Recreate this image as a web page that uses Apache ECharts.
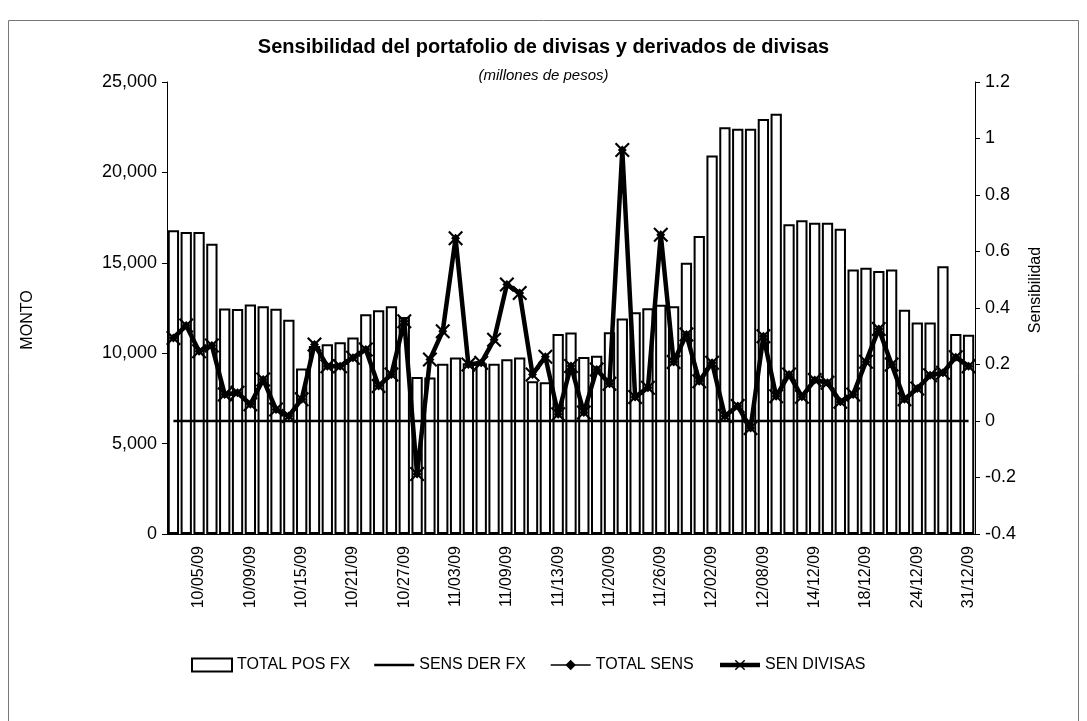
<!DOCTYPE html>
<html>
<head>
<meta charset="utf-8">
<script src="https://cdn.jsdelivr.net/npm/echarts@6/dist/echarts.min.js"></script>
<style>
html,body{margin:0;padding:0;background:#fff;}
#chart{width:1087px;height:721px;}
</style>
</head>
<body>
<div id="chart"></div>
<script>
// Categories (business days, Oct–Dec 2009)
var categories = [
 '10/01/09','10/02/09','10/05/09','10/06/09','10/07/09','10/08/09','10/09/09','10/12/09','10/13/09','10/14/09',
 '10/15/09','10/16/09','10/19/09','10/20/09','10/21/09','10/22/09','10/23/09','10/26/09','10/27/09','10/28/09',
 '10/29/09','10/30/09','11/03/09','11/04/09','11/05/09','11/06/09','11/09/09','11/10/09','11/11/09','11/12/09',
 '11/13/09','11/17/09','11/18/09','11/19/09','11/20/09','11/23/09','11/24/09','11/25/09','11/26/09','11/27/09',
 '11/30/09','12/01/09','12/02/09','12/03/09','12/04/09','12/07/09','12/08/09','09/12/09','10/12/09','11/12/09',
 '14/12/09','15/12/09','16/12/09','17/12/09','18/12/09','21/12/09','22/12/09','23/12/09','24/12/09','28/12/09',
 '29/12/09','30/12/09','31/12/09'
];

// TOTAL POS FX (left axis, millones de pesos)
var totalPosFx = [
 16800,16700,16700,16060,12470,12450,12690,12600,12460,11850,
 9150,10400,10500,10610,10870,12150,12380,12590,12000,8680,
 8650,9420,9760,9450,9450,9410,9670,9760,8450,8400,
 11060,11150,9790,9860,11160,11920,12270,12480,12685,12590,
 15000,16480,20930,22500,22410,22410,22960,23240,17130,17350,
 17220,17220,16890,14630,14720,14540,14630,12410,11700,11700,
 14810,11060,11020
];

// SENS DER FX (right axis)
var sensDerFx = [
 0,0,0,0,0,0,0,0,0,0,
 0,0,0,0,0,0,0,0,0,0,
 0,0,0,0,0,0,0,0,0,0,
 0,0,0,0,0,0,0,0,0,0,
 0,0,0,0,0,0,0,0,0,0,
 0,0,0,0,0,0,0,0,0,0,
 0,0,0
];

// TOTAL SENS (right axis)
var totalSens = [
 0.294,0.338,0.247,0.267,0.094,0.100,0.059,0.147,0.041,0.018,
 0.077,0.271,0.194,0.194,0.224,0.253,0.124,0.165,0.353,-0.188,
 0.218,0.318,0.647,0.200,0.206,0.288,0.483,0.453,0.165,0.227,
 0.024,0.195,0.030,0.182,0.132,0.959,0.085,0.118,0.659,0.209,
 0.306,0.141,0.206,0.018,0.053,-0.025,0.300,0.088,0.165,0.086,
 0.145,0.135,0.068,0.094,0.210,0.326,0.200,0.077,0.115,0.162,
 0.171,0.226,0.194
];

// SEN DIVISAS (right axis)
var senDivisas = [
 0.294,0.338,0.247,0.267,0.094,0.100,0.059,0.147,0.041,0.018,
 0.077,0.271,0.194,0.194,0.224,0.253,0.124,0.165,0.353,-0.188,
 0.218,0.318,0.647,0.200,0.206,0.288,0.483,0.453,0.165,0.227,
 0.024,0.195,0.030,0.182,0.132,0.959,0.085,0.118,0.659,0.209,
 0.306,0.141,0.206,0.018,0.053,-0.025,0.300,0.088,0.165,0.086,
 0.145,0.135,0.068,0.094,0.210,0.326,0.200,0.077,0.115,0.162,
 0.171,0.226,0.194
];

var FONT = 'Liberation Sans, Arial, sans-serif';
var X_SYMBOL = 'path://M0,1L1,0L5,4L9,0L10,1L6,5L10,9L9,10L5,6L1,10L0,9L4,5Z';

var chart = echarts.init(document.getElementById('chart'));
chart.setOption({
  backgroundColor: '#fff',
  animation: false,
  textStyle: { fontFamily: FONT, color: '#000' },
  title: [
    { text: 'Sensibilidad del portafolio de divisas y derivados de divisas',
      left: 'center', top: 32,
      textStyle: { fontFamily: FONT, fontSize: 20, fontWeight: 'bold', color: '#000' } },
    { text: '(millones de pesos)', left: 'center', top: 63,
      textStyle: { fontFamily: FONT, fontSize: 15, fontStyle: 'italic', fontWeight: 'normal', color: '#000' } }
  ],
  graphic: [
    { type: 'rect', shape: { x: 8.5, y: 20.5, width: 1070, height: 720 },
      style: { fill: 'none', stroke: '#777', lineWidth: 1 }, silent: true },
    { type: 'text', x: 28, y: 320, rotation: Math.PI / 2,
      style: { text: 'MONTO', fontFamily: FONT, fontSize: 16, fill: '#000', textAlign: 'center', textVerticalAlign: 'middle' } },
    { type: 'text', x: 1036, y: 290, rotation: Math.PI / 2,
      style: { text: 'Sensibilidad', fontFamily: FONT, fontSize: 16, fill: '#000', textAlign: 'center', textVerticalAlign: 'middle' } }
  ],
  legend: {
    left: 186, top: 652,
    itemWidth: 40, itemHeight: 13, itemGap: 24,
    lineStyle: { width: 'inherit' },
    textStyle: { fontFamily: FONT, fontSize: 16, color: '#000' },
    data: [
      { name: 'TOTAL POS FX', icon: 'rect' },
      { name: 'SENS DER FX', icon: 'path://M0,0H100V6H0Z' },
      { name: 'TOTAL SENS' },
      { name: 'SEN DIVISAS' }
    ]
  },
  grid: { left: 167, right: 112, top: 82, bottom: 187, containLabel: false },
  xAxis: {
    type: 'category',
    data: categories,
    axisLine: { show: true, lineStyle: { color: '#000', width: 1 } },
    axisTick: { show: false },
    axisLabel: {
      rotate: 90, fontFamily: FONT, fontSize: 16, color: '#000', margin: 12,
      interval: function (i) { return i % 4 === 2; }
    }
  },
  yAxis: [
    { type: 'value', min: 0, max: 25000, interval: 5000,
      axisLine: { show: true, lineStyle: { color: '#000', width: 1 } },
      axisTick: { show: true, length: 5, lineStyle: { color: '#000' } },
      splitLine: { show: false },
      axisLabel: { fontFamily: FONT, fontSize: 18, color: '#000', margin: 10,
        formatter: function (v) { return v.toLocaleString('en-US'); } } },
    { type: 'value', min: -0.4, max: 1.2, interval: 0.2, position: 'right',
      axisLine: { show: true, lineStyle: { color: '#000', width: 1 } },
      axisTick: { show: true, length: 5, lineStyle: { color: '#000' } },
      splitLine: { show: false },
      axisLabel: { fontFamily: FONT, fontSize: 18, color: '#000', margin: 10,
        formatter: function (v) { return String(+v.toFixed(1)); } } }
  ],
  series: [
    { name: 'TOTAL POS FX', type: 'bar', yAxisIndex: 0, data: totalPosFx,
      barCategoryGap: '12%',
      itemStyle: { color: '#fff', borderColor: '#000', borderWidth: 2 }, z: 1 },
    { name: 'SENS DER FX', type: 'line', yAxisIndex: 1, data: sensDerFx,
      symbol: 'none', lineStyle: { color: '#000', width: 2.5 },
      itemStyle: { color: '#000' }, z: 2 },
    { name: 'SEN DIVISAS', type: 'line', yAxisIndex: 1, data: senDivisas,
      symbol: X_SYMBOL, symbolSize: 15, showAllSymbol: true,
      lineStyle: { color: '#000', width: 4.5 },
      itemStyle: { color: '#000' }, z: 3 },
    { name: 'TOTAL SENS', type: 'line', yAxisIndex: 1, data: totalSens,
      symbol: 'diamond', symbolSize: 9, showAllSymbol: true,
      lineStyle: { color: '#000', width: 1.5 },
      itemStyle: { color: '#000' }, z: 4 }
  ]
});
</script>
</body>
</html>
